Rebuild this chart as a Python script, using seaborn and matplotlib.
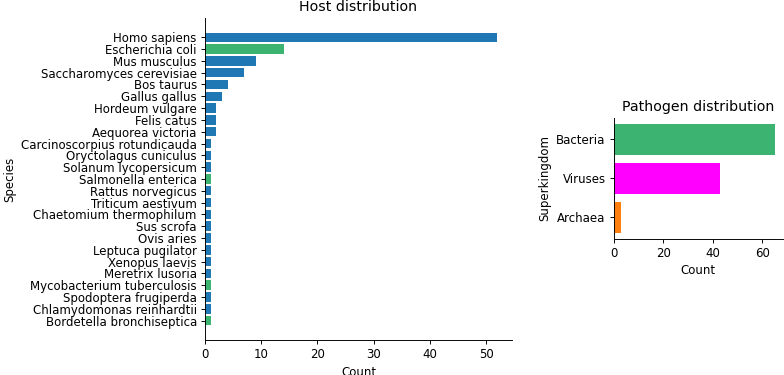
import matplotlib
matplotlib.use("Agg")
import matplotlib.pyplot as plt
import seaborn as sns
import pandas as pd

# --- data ---
host_species = [
    "Homo sapiens", "Escherichia coli", "Mus musculus", "Saccharomyces cerevisiae",
    "Bos taurus", "Gallus gallus", "Hordeum vulgare", "Felis catus",
    "Aequorea victoria", "Carcinoscorpius rotundicauda", "Oryctolagus cuniculus",
    "Solanum lycopersicum", "Salmonella enterica", "Rattus norvegicus",
    "Triticum aestivum", "Chaetomium thermophilum", "Sus scrofa", "Ovis aries",
    "Leptuca pugilator", "Xenopus laevis", "Meretrix lusoria",
    "Mycobacterium tuberculosis", "Spodoptera frugiperda",
    "Chlamydomonas reinhardtii", "Bordetella bronchiseptica",
]
host_counts = [52, 14, 9, 7, 4, 3, 2, 2, 2, 1, 1, 1, 1, 1, 1, 1, 1, 1, 1, 1, 1, 1, 1, 1, 1]
bacterial_hosts = ["Escherichia coli", "Salmonella enterica",
                   "Mycobacterium tuberculosis", "Bordetella bronchiseptica"]

superkingdoms = ["Bacteria", "Viruses", "Archaea"]
pathogen_counts = [65, 43, 3]

host_colors = {"bacterium": "#3cb371", "other": "#1f77b4"}
kingdom_colors = {"Bacteria": "#3cb371", "Viruses": "#ff00ff", "Archaea": "#ff7f0e"}

df_host = pd.DataFrame({"Species": host_species, "Count": host_counts})
df_host["kind"] = ["bacterium" if s in bacterial_hosts else "other" for s in host_species]
df_path = pd.DataFrame({"Superkingdom": superkingdoms, "Count": pathogen_counts})

plt.rcParams["font.family"] = ["DejaVu Sans"]
plt.rcParams["font.size"] = 10

DPI = 84.6
fig = plt.figure(figsize=(784 / DPI, 375 / DPI), dpi=DPI)
ax1 = fig.add_axes([0.2615, 0.0933, 0.3916, 0.859])
ax2 = fig.add_axes([0.783, 0.364, 0.2156, 0.3205])


def pad_y(ax, n):
    # matplotlib-like 5% margin around the bars
    span = (n - 1) + 0.8
    ax.set_ylim(n - 1 + 0.4 + 0.05 * span, -0.4 - 0.05 * span)


sns.barplot(data=df_host, y="Species", x="Count", hue="kind", palette=host_colors,
            dodge=False, saturation=1, legend=False, width=0.8, ax=ax1)
pad_y(ax1, len(host_species))
ax1.set_xlim(0, max(host_counts) * 1.05)
ax1.set_title("Host distribution", fontsize=12)
ax1.set_xlabel("Count", fontsize=10)
ax1.set_ylabel("Species", fontsize=10)

sns.barplot(data=df_path, y="Superkingdom", x="Count", hue="Superkingdom",
            palette=kingdom_colors, saturation=1, legend=False, width=0.8, ax=ax2)
pad_y(ax2, len(superkingdoms))
ax2.set_xlim(0, max(pathogen_counts) * 1.05)
ax2.set_xticks([0, 20, 40, 60])
ax2.set_title("Pathogen distribution", fontsize=12)
ax2.set_xlabel("Count", fontsize=10)
ax2.set_ylabel("Superkingdom", fontsize=10)

for ax in (ax1, ax2):
    sns.despine(ax=ax)
    ax.tick_params(labelsize=10)
    for p in ax.patches:
        p.set_edgecolor("none")

fig.savefig("out.png", dpi=DPI)
